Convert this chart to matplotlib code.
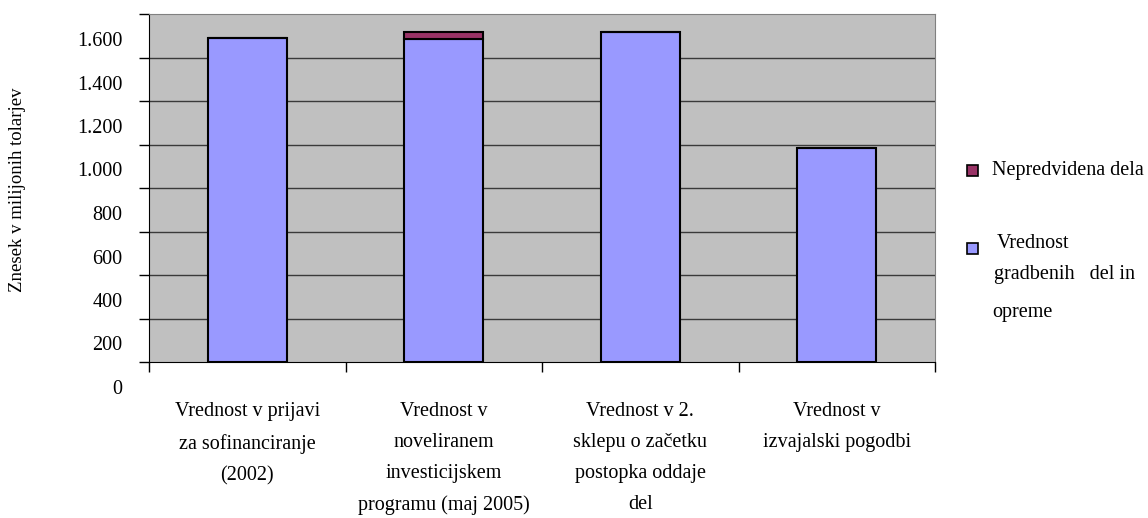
import matplotlib.pyplot as plt
import matplotlib.transforms as mtransforms
from matplotlib.patches import Rectangle
import numpy as np

categories = [
    "Vrednost v prijavi\nza sofinanciranje\n(2002)",
    "Vrednost v\nnoveliranem\ninvesticijskem\nprogramu (maj 2005)",
    "Vrednost v 2.\nsklepu o začetku\npostopka oddaje\ndel",
    "Vrednost v\nizvajalski pogodbi",
]
vrednost = [1488, 1485, 1519, 982]
nepredvidena = [0, 31, 0, 0]
ytick_vals = [0, 200, 400, 600, 800, 1000, 1200, 1400, 1600]
ytick_labels = ["0", "200", "400", "600", "800", "1.000", "1.200", "1.400", "1.600"]

plt.rcParams['font.family'] = ['Liberation Serif', 'DejaVu Serif']

fig = plt.figure(figsize=(11.48, 5.18), dpi=100)
ax = fig.add_axes([149 / 1148, 1 - 362 / 518, (935 - 149) / 1148, (362 - 14) / 518])
ax.set_facecolor('#C0C0C0')

x = np.arange(len(categories))
ax.bar(x, vrednost, width=0.4, color='#9999FF', edgecolor='black', linewidth=1.5, zorder=3)
ax.bar(x, nepredvidena, width=0.4, bottom=vrednost, color='#993366',
       edgecolor='black', linewidth=1.5, zorder=3)

ax.set_xlim(-0.5, 3.5)
ax.set_ylim(0, 1600)

# horizontal gridlines
for v in ytick_vals[1:-1]:
    ax.axhline(v, color='#3a3a3a', linewidth=1.0, zorder=1)

# y ticks, labels shifted down like the original
ax.set_yticks(ytick_vals)
ax.set_yticklabels(ytick_labels, fontsize=14.5)
ax.tick_params(axis='y', direction='out', length=7, width=1, pad=12, colors='black')
shift = mtransforms.ScaledTranslation(0, -25 / 100, fig.dpi_scale_trans)
for lab in ax.get_yticklabels():
    lab.set_transform(lab.get_transform() + shift)

# x ticks at category boundaries, labels at centres
ax.set_xticks(np.arange(-0.5, 4, 1))
ax.set_xticklabels([])
ax.tick_params(axis='x', which='major', direction='out', length=7, width=1)
ax.set_xticks(x, minor=True)
ax.set_xticklabels(categories, minor=True, fontsize=14.5, linespacing=1.85, va='top')
ax.tick_params(axis='x', which='minor', length=0, pad=29)

ax.spines['left'].set_color('black')
ax.spines['bottom'].set_color('black')
ax.spines['top'].set_color('#808080')
ax.spines['right'].set_color('#808080')

fig.text(18 / 1148, 1 - 190 / 518, "Znesek v milijonih tolarjev", rotation=90,
         fontsize=13.5, ha='center', va='center')

# legend drawn by hand
sq = 11
for (yc, col) in [(171, '#993366'), (248, '#9999FF')]:
    fig.patches.append(Rectangle(((967) / 1148, 1 - (yc + sq / 2) / 518), sq / 1148, sq / 518,
                                 transform=fig.transFigure, facecolor=col,
                                 edgecolor='black', linewidth=1.2))
fig.text(992 / 1148, 1 - 170 / 518, "Nepredvidena dela", fontsize=14.5, va='center')
fig.text(997 / 1148, 1 - 243 / 518, "Vrednost", fontsize=14.5, va='center')
fig.text(994 / 1148, 1 - 275 / 518, "gradbenih   del in", fontsize=14.5, va='center')
fig.text(992 / 1148, 1 - 313 / 518, "opreme", fontsize=14.5, va='center')

fig.savefig('out.png', dpi=100)
